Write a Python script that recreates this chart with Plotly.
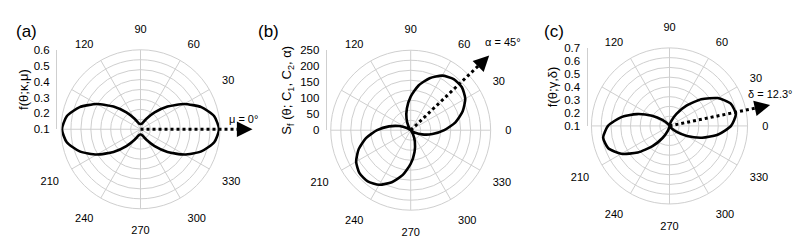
import math
import plotly.graph_objects as go

W, H = 800, 249

# ---------------- data ----------------
theta_deg = list(range(0, 361, 10))

# (a) f(theta; kappa, mu), mu = 0
f_a = [0.594, 0.571, 0.507, 0.418, 0.322, 0.238, 0.178, 0.146, 0.134,
       0.133, 0.134, 0.146, 0.178, 0.238, 0.322, 0.418, 0.507, 0.571,
       0.594, 0.571, 0.507, 0.418, 0.322, 0.238, 0.178, 0.146, 0.134,
       0.133, 0.134, 0.146, 0.178, 0.238, 0.322, 0.418, 0.507, 0.571,
       0.594]

# (b) S_f(theta; C1, C2, alpha), alpha = 45
s_b = [105, 142, 173, 197, 209, 209, 197, 173, 142,
       105, 69, 38, 14, 2, 2, 14, 38, 69,
       105, 142, 173, 197, 209, 209, 197, 173, 142,
       105, 69, 38, 14, 2, 2, 14, 38, 69,
       105]

# (c) f(theta; gamma, delta), delta = 12.3
f_c = [0.573, 0.618, 0.601, 0.528, 0.419, 0.303, 0.207, 0.142, 0.111,
       0.101, 0.100, 0.100, 0.104, 0.124, 0.172, 0.255, 0.366, 0.480,
       0.573, 0.618, 0.601, 0.528, 0.419, 0.303, 0.207, 0.142, 0.111,
       0.101, 0.100, 0.100, 0.104, 0.124, 0.172, 0.255, 0.366, 0.480,
       0.573]

# radial axis tick labels (left vertical axis)
ticks_a = [0.1, 0.2, 0.3, 0.4, 0.5, 0.6]
ticks_b = [0, 50, 100, 150, 200, 250]
ticks_c = [0.1, 0.2, 0.3, 0.4, 0.5, 0.6, 0.7]

# angular grid (every 30 deg) and the angle labels that are printed
ang_grid = [0, 30, 60, 90, 120, 150, 180, 210, 240, 270, 300, 330]
ang_labels_a = [30, 60, 90, 120, 210, 240, 270, 300, 330]
ang_labels_bc = [0, 30, 60, 90, 120, 210, 240, 270, 300, 330]

# preferred directions
mu_a = 0
alpha_b = 45
delta_c = 12.3

titles = ["f(θ;κ,μ)", "S<sub>f</sub> (θ; C<sub>1</sub>, C<sub>2</sub>, α)", "f(θ;γ,δ)"]
panel_tags = ["(a)", "(b)", "(c)"]
dir_labels = ["μ = 0°", "α = 45°", "δ = 12.3°"]

# ---------------- layout geometry (pixels) ----------------
panels = [
    dict(cx=140.5, cy=129.5, R=83.5, rng=[0.1, 0.6], n_circ=8, r=f_a, ticks=ticks_a,
         labs=ang_labels_a, ang=mu_a, tip=112, lab=(243, 119), tag=(26, 27), so=2),
    dict(cx=410.7, cy=130.5, R=84.0, rng=[0, 250], n_circ=8, r=s_b, ticks=ticks_b,
         labs=ang_labels_bc, ang=alpha_b, tip=111, lab=(503, 38), tag=(268, 27), so=5),
    dict(cx=669.5, cy=126.0, R=82.0, rng=[0.1, 0.7], n_circ=8, r=f_c, ticks=ticks_c,
         labs=ang_labels_bc, ang=delta_c, tip=103, lab=(770, 92), tag=(554, 27), so=3),
]

FONT = "Arial, 'Liberation Sans', sans-serif"
GRID = "#cfcfcf"

fig = go.Figure()
layout = dict(width=W, height=H, margin=dict(l=0, r=0, t=0, b=0),
              paper_bgcolor="white", plot_bgcolor="rgba(0,0,0,0)",
              showlegend=False, font=dict(family=FONT, size=11, color="black"))
shapes, annots = [], []


def px(x):
    return x / W


def py(y):
    return (H - y) / H


for i, p in enumerate(panels):
    k = i + 1
    gname = f"polar{2 * k - 1}" if k > 1 else "polar"
    lname = f"polar{2 * k}"
    cx, cy, R = p["cx"], p["cy"], p["R"]
    lo, hi = p["rng"]
    step = (hi - lo) / p["n_circ"]
    grid_vals = [lo + step * j for j in range(1, p["n_circ"] + 1)]
    dom = dict(x=[px(cx - R), px(cx + R)], y=[py(cy + R), py(cy - R)])
    # grid + curve
    layout[gname] = dict(
        domain=dom, bgcolor="white",
        radialaxis=dict(range=[lo, hi], tickvals=grid_vals, showticklabels=False,
                        ticks="", showline=False, gridcolor=GRID, gridwidth=1),
        angularaxis=dict(rotation=0, direction="counterclockwise",
                         tickvals=ang_grid, showticklabels=False, ticks="",
                         showline=True, linecolor=GRID, linewidth=1,
                         gridcolor=GRID, gridwidth=1),
    )
    # angle labels only
    layout[lname] = dict(
        domain=dom, bgcolor="rgba(0,0,0,0)",
        radialaxis=dict(range=[lo, hi], visible=False),
        angularaxis=dict(rotation=0, direction="counterclockwise",
                         tickvals=p["labs"], ticktext=[str(v) for v in p["labs"]],
                         showgrid=False, showline=False,
                         ticks="outside", ticklen=12, tickcolor="rgba(0,0,0,0)",
                         tickfont=dict(family=FONT, size=11, color="black")),
    )
    fig.add_trace(go.Scatterpolar(r=p["r"], theta=theta_deg, mode="lines",
                                  line=dict(color="black", width=2.6, shape="spline",
                                            smoothing=0.6),
                                  subplot=gname, hoverinfo="skip"))
    fig.add_trace(go.Scatterpolar(r=[None], theta=[None], mode="markers",
                                  subplot=lname, hoverinfo="skip"))

    # left vertical radial scale
    xa = "xaxis" if k == 1 else f"xaxis{k}"
    ya = "yaxis" if k == 1 else f"yaxis{k}"
    xr = "x" if k == 1 else f"x{k}"
    yr = "y" if k == 1 else f"y{k}"
    layout[xa] = dict(domain=[px(cx - R), px(cx + R)], visible=False,
                      anchor=yr, range=[0, 1], fixedrange=True)
    layout[ya] = dict(domain=[py(cy), py(cy - R)], range=[lo, hi], anchor=xr,
                      tickvals=p["ticks"], ticks="outside", ticklen=4,
                      tickcolor="rgba(0,0,0,0)", showline=True, linecolor=GRID,
                      linewidth=1, showgrid=False, zeroline=False,
                      tickfont=dict(family=FONT, size=11.5, color="black"),
                      title=dict(text=titles[i], standoff=p["so"],
                                 font=dict(family=FONT, size=13, color="black")),
                      fixedrange=True)
    fig.add_trace(go.Scatter(x=[None], y=[None], xaxis=xr, yaxis=yr,
                             mode="markers", hoverinfo="skip"))

    # dotted direction arrow
    a = math.radians(p["ang"])
    head = 11
    L = p["tip"]
    x_end = cx + (L - head + 2) * math.cos(a)
    y_end = cy - (L - head + 2) * math.sin(a)
    shapes.append(dict(type="line", xref="paper", yref="paper",
                       x0=px(cx), y0=py(cy), x1=px(x_end), y1=py(y_end),
                       line=dict(color="black", width=3, dash="dot")))
    tx = cx + L * math.cos(a)
    ty = cy - L * math.sin(a)
    annots.append(dict(x=px(tx), y=py(ty), xref="paper", yref="paper",
                       ax=-head * math.cos(a), ay=head * math.sin(a),
                       axref="pixel", ayref="pixel", text="", showarrow=True,
                       arrowhead=2, arrowsize=1.3, arrowwidth=2.4, arrowcolor="black",
                       standoff=0))
    annots.append(dict(x=px(p["lab"][0]), y=py(p["lab"][1]), xref="paper", yref="paper",
                       text=dir_labels[i], showarrow=False,
                       font=dict(family=FONT, size=11, color="black"),
                       xanchor="center", yanchor="middle"))
    annots.append(dict(x=px(p["tag"][0]), y=py(p["tag"][1]), xref="paper", yref="paper",
                       text=panel_tags[i], showarrow=False,
                       font=dict(family=FONT, size=17, color="black"),
                       xanchor="center", yanchor="middle"))

layout["shapes"] = shapes
layout["annotations"] = annots
fig.update_layout(**layout)
fig.write_html("out.html", config={"displayModeBar": False},
               post_script="document.body.style.margin='0px';"
                           "document.body.style.overflow='hidden';")
